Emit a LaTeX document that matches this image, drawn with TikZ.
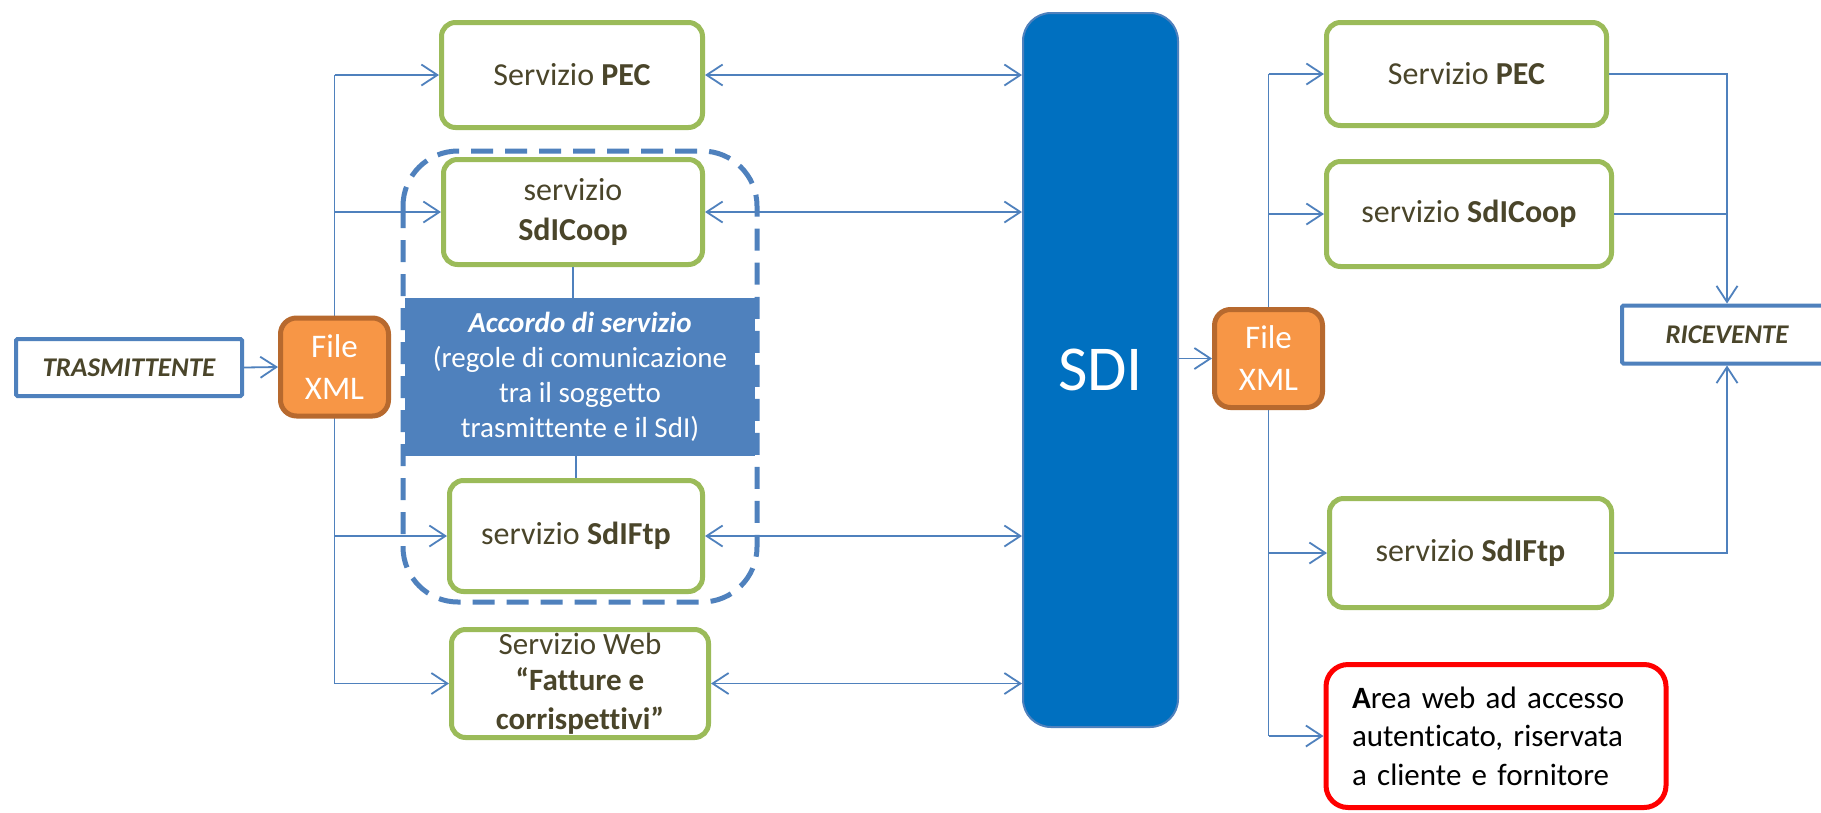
\documentclass[tikz,border=0pt]{standalone}
\usepackage{fontspec}
\setmainfont{Carlito}[Ligatures=NoCommon]
\usetikzlibrary{arrows.meta}
\definecolor{lblue}{HTML}{4F81BD}
\definecolor{sdiblue}{HTML}{0070C0}
\definecolor{grn}{HTML}{9BBB59}
\definecolor{orng}{HTML}{F79646}
\definecolor{orngd}{HTML}{B7692E}
\definecolor{txt}{HTML}{4A452A}
\definecolor{redb}{HTML}{FF0000}
\tikzset{
  svc/.style={draw=grn, line width=5pt, rounded corners=14pt, fill=white, text=txt,
    align=center, inner sep=0pt, font=\fontsize{32}{40}\selectfont},
  filebox/.style={draw=orngd, line width=5pt, rounded corners=16pt, fill=orng, text=white,
    align=center, inner sep=0pt, minimum width=108pt, minimum height=98pt,
    font=\fontsize{33}{42}\selectfont},
  party/.style={draw=lblue, line width=4pt, rounded corners=1.5pt, fill=white, text=txt,
    inner sep=0pt, font=\fontsize{27}{32}\selectfont\bfseries\itshape},
  conn/.style={draw=lblue, line width=1.8pt},
  arr/.style={conn, -{Straight Barb[length=16pt,width=21pt,line width=1.8pt]}},
  biarr/.style={conn, {Straight Barb[length=16pt,width=21pt,line width=1.8pt]}-{Straight Barb[length=16pt,width=21pt,line width=1.8pt]}},
  dashbox/.style={draw=lblue, line width=5pt, dash pattern=on 22pt off 12pt, rounded corners=55pt}
}
\begin{document}
\begin{tikzpicture}[x=1pt,y=-1pt]
\fill[white] (0,0) rectangle (1821,812);
\useasboundingbox (0,0) rectangle (1821,812);

% SDI
\node[draw=lblue, line width=2pt, fill=sdiblue, rounded corners=28pt, text=white,
  minimum width=155pt, minimum height=714pt, inner sep=0pt,
  font=\fontsize{64}{72}\selectfont] (sdi) at (1100.5,370) {SDI};

% left side
\node[party, minimum width=226pt, minimum height=57pt] (tras) at (129,367.5) {TRASMITTENTE};

\node[svc, minimum width=261pt, minimum height=105pt] (pecL) at (572,75) {Servizio \textbf{PEC}};
\node[svc, minimum width=259pt, minimum height=105pt] (coopL) at (573,212) {servizio\\\textbf{SdICoop}};
\node[fill=lblue, text=white, minimum width=350pt, minimum height=158pt, inner sep=0pt,
  align=center, font=\fontsize{29}{35}\selectfont] (acc) at (580,377)
  {\textbf{\textit{Accordo di servizio}}\\(regole di comunicazione\\tra il soggetto\\trasmittente e il SdI)};
\node[svc, minimum width=253pt, minimum height=111pt] (ftpL) at (576,536) {servizio \textbf{SdIFtp}};
\node[svc, minimum width=257pt, minimum height=108pt, font=\fontsize{31}{39}\selectfont] (webL) at (580,683.5)
  {\raisebox{-3pt}{Servizio Web}\\\textbf{“Fatture e}\\\textbf{corrispettivi”}};

\draw[dashbox] (403,151) rectangle (757,602);

\draw[conn] (coopL.south) -- (coopL.south |- acc.north);
\draw[conn] (acc.south -| ftpL.north) -- (ftpL.north);

% left trunk
\coordinate (lt) at (334.5,0);
\draw[conn] (lt |- pecL.west) -- (lt |- webL.west);
\draw[arr] (lt |- pecL.west) -- (pecL.west);
\draw[arr] (lt |- coopL.west) -- (coopL.west);
\draw[arr] (lt |- ftpL.west) -- (ftpL.west);
\draw[arr] (lt |- webL.west) -- (webL.west);
\node[filebox] (fxl) at (334.5,367) {File\\XML};
\draw[arr] (tras.east) -- (fxl.west);

% to SDI
\draw[biarr] (pecL.east) -- (sdi.west |- pecL.east);
\draw[biarr] (coopL.east) -- (sdi.west |- coopL.east);
\draw[biarr] (ftpL.east) -- (sdi.west |- ftpL.east);
\draw[biarr] (webL.east) -- (sdi.west |- webL.east);

% right side
\node[svc, minimum width=280pt, minimum height=103pt] (pecR) at (1466.5,74) {Servizio \textbf{PEC}};
\node[svc, minimum width=285pt, minimum height=105pt] (coopR) at (1469,214) {servizio \textbf{SdICoop}};
\node[svc, minimum width=282pt, minimum height=109pt] (ftpR) at (1470.5,553) {servizio \textbf{SdIFtp}};
\node[draw=redb, line width=5pt, rounded corners=22pt, fill=white, text=black,
  minimum width=340pt, minimum height=143pt, inner xsep=26pt, inner ysep=0pt,
  text width=288pt, align=left, font=\fontsize{31}{38.5}\selectfont] (red) at (1496,736)
  {\mbox{\textbf{A}rea web ad accesso}\\\mbox{autenticato, riservata}\\\mbox{a cliente e fornitore}};
\node[party, minimum width=210pt, minimum height=58pt] (ricev) at (1727,334.5) {RICEVENTE};

\coordinate (rt) at (1268.5,0);
\draw[conn] (rt |- pecR.west) -- (rt |- red.west);
\draw[arr] (rt |- pecR.west) -- (pecR.west);
\draw[arr] (rt |- coopR.west) -- (coopR.west);
\draw[arr] (rt |- ftpR.west) -- (ftpR.west);
\draw[arr] (rt |- red.west) -- (red.west);
\node[filebox] (fxr) at (1268.5,358.5) {File\\XML};
\draw[arr] (sdi.east |- fxr.west) -- (fxr.west);

\draw[arr] (pecR.east) -| (ricev.north);
\draw[conn] (coopR.east) -- (coopR.east -| ricev.north);
\draw[arr] (ftpR.east) -| (ricev.south);
\end{tikzpicture}
\end{document}
